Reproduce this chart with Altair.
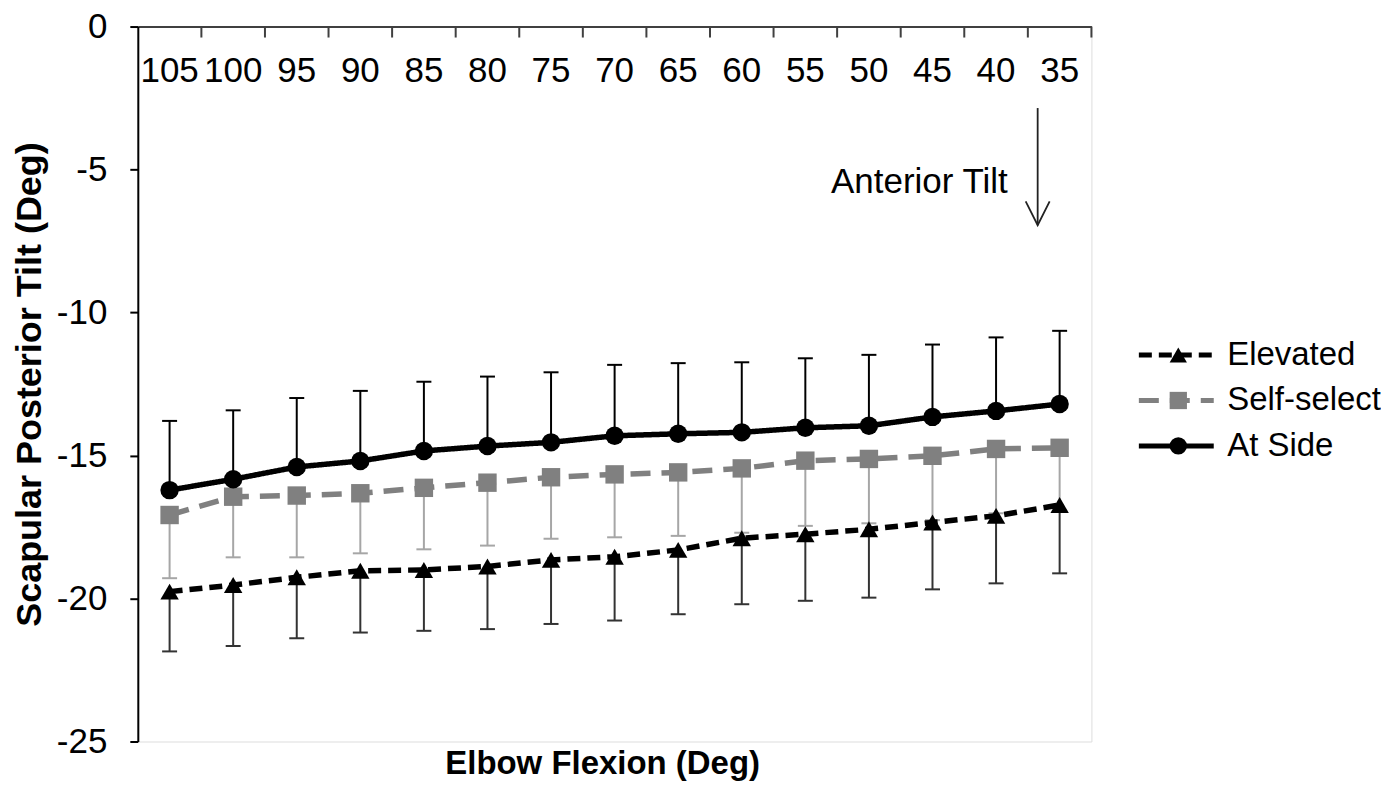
import altair as alt
import pandas as pd

# ---------------- data ----------------
angles = ["105", "100", "95", "90", "85", "80", "75", "70", "65", "60", "55", "50", "45", "40", "35"]
series_names = ["Elevated", "Self-select", "At Side"]

elevated_mean = [-19.76, -19.53, -19.26, -19.03, -19.00, -18.88, -18.65, -18.54, -18.30, -17.89, -17.75, -17.58, -17.34, -17.11, -16.73]
elevated_lower = [-21.85, -21.66, -21.39, -21.19, -21.13, -21.07, -20.89, -20.77, -20.55, -20.20, -20.08, -19.97, -19.68, -19.47, -19.12]

self_mean = [-17.08, -16.44, -16.40, -16.32, -16.13, -15.95, -15.76, -15.66, -15.59, -15.45, -15.18, -15.12, -15.01, -14.77, -14.73]
self_lower = [-19.29, -18.56, -18.56, -18.42, -18.28, -18.15, -17.91, -17.86, -17.81, -17.70, -17.46, -17.37, -17.26, -17.02, -16.93]

side_mean = [-16.21, -15.83, -15.40, -15.19, -14.84, -14.67, -14.54, -14.31, -14.24, -14.19, -14.03, -13.96, -13.65, -13.44, -13.20]
side_upper = [-13.79, -13.42, -12.99, -12.74, -12.42, -12.24, -12.09, -11.83, -11.77, -11.74, -11.60, -11.48, -11.12, -10.87, -10.64]

y_ticks = [0, -5, -10, -15, -20, -25]

anno_text = ["Anterior Tilt"]
anno_x = ["35"]
anno_text_y = [-5.83]
arrow_y_start = [-2.85]
arrow_y_end = [-6.95]
arrow_head_y = [-6.53]

# ---------------- tables ----------------
rows = []
for name, means, ends in zip(series_names,
                             [elevated_mean, self_mean, side_mean],
                             [elevated_lower, self_lower, side_upper]):
    for a, m, e in zip(angles, means, ends):
        rows.append({"angle": a, "series": name, "mean": m, "end": e})
df = pd.DataFrame(rows)
df_ticks = pd.DataFrame({"angle": angles})
df_anno = pd.DataFrame({"angle": anno_x, "text": anno_text, "ty": anno_text_y,
                        "y1": arrow_y_start, "y2": arrow_y_end, "yh": arrow_head_y})

FONT = "Liberation Sans"

x_scale = alt.Scale(type="band", domain=angles, paddingInner=0, paddingOuter=0)
y_scale = alt.Scale(domain=[-25, 0], nice=False, zero=False)

x_axis = alt.Axis(orient="top", ticks=False, labelPadding=-55, labelBaseline="alphabetic",
                  labelFontSize=35, labelAngle=0, labelOverlap=False, labelColor="black",
                  labelFont=FONT, domainColor="#404040", domainWidth=2, grid=False,
                  title=None)
y_axis = alt.Axis(values=y_ticks, labelExpr="'' + datum.value", grid=False,
                  domainColor="black", domainWidth=2, tickColor="black", tickWidth=2,
                  tickSize=8, labelFontSize=35, labelPadding=23, labelColor="black",
                  labelFont=FONT, titleFont=FONT, titleFontSize=36, titleFontWeight="bold",
                  titleColor="black", titleX=-108, titleY=358, titleAngle=270,
                  titleBaseline="middle", titleAlign="center")
Y_TITLE = "Scapular Posterior Tilt (Deg)"


def xenc(**kw):
    return alt.X("angle:N", scale=x_scale, axis=x_axis, **kw)


def yenc(field):
    return alt.Y(f"{field}:Q", scale=y_scale, axis=y_axis, title=Y_TITLE)


color_scale = alt.Scale(domain=series_names, range=["#000000", "#808080", "#000000"])
dash_scale = alt.Scale(domain=series_names, range=[[13, 7], [20, 11], [1, 0]])
shape_scale = alt.Scale(domain=series_names, range=["triangle-up", "square", "circle"])

LEG_X = 1023.5
LEG_Y = 312.5
line_legend = alt.Legend(orient="none", legendX=LEG_X, legendY=LEG_Y, title=None,
                         symbolType="M-5,0H5", symbolSize=225, symbolStrokeWidth=5,
                         symbolOffset=0, labelOffset=34.5, labelFontSize=33,
                         labelColor="black", labelFont=FONT, rowPadding=11.5, padding=0,
                         direction="vertical")
point_legend = alt.Legend(orient="none", legendX=LEG_X, legendY=LEG_Y, title=None,
                          symbolSize=300, symbolOffset=2, labelExpr="''",
                          labelFontSize=33, labelFont=FONT, rowPadding=11.5, padding=0,
                          direction="vertical", symbolOpacity=1)

base = alt.Chart(df)

# axis tick marks between categories (pointing into the plot)
tick_rules = alt.Chart(df_ticks).mark_rule(color="#404040", strokeWidth=2).encode(
    x=alt.X("angle:N", scale=x_scale, axis=x_axis, bandPosition=1),
    y=alt.value(0), y2=alt.value(11))

whisker_colors = {"Elevated": "#333333", "Self-select": "#a6a6a6", "At Side": "#000000"}
whiskers = []
for name in ["Self-select", "Elevated", "At Side"]:
    d = base.transform_filter(alt.datum.series == name)
    whiskers.append(d.mark_rule(color=whisker_colors[name], strokeWidth=2).encode(
        x=xenc(), y=yenc("mean"), y2="end:Q"))
    whiskers.append(d.mark_tick(color=whisker_colors[name], thickness=2, size=15, opacity=1).encode(
        x=xenc(), y=yenc("end")))

lines = base.mark_line(strokeWidth=5.5).encode(
    x=xenc(), y=yenc("mean"),
    color=alt.Color("series:N", scale=color_scale, legend=line_legend),
    strokeDash=alt.StrokeDash("series:N", scale=dash_scale, legend=line_legend))

points = base.mark_point(filled=True, size=340, opacity=1).encode(
    x=xenc(), y=yenc("mean"),
    color=alt.Color("series:N", scale=color_scale, legend=point_legend),
    shape=alt.Shape("series:N", scale=shape_scale, legend=point_legend))

anno = alt.Chart(df_anno)
anno_label = anno.mark_text(align="right", baseline="alphabetic", fontSize=35, font=FONT,
                            color="black", dx=-52).encode(
    x=xenc(), y=yenc("ty"), text="text:N")
arrow_line = anno.mark_rule(color="#222222", strokeWidth=1.8, xOffset=-22).encode(
    x=xenc(), y=yenc("y1"), y2="y2:Q")
arrow_head = anno.mark_point(shape="M-1,-1L0,1L1,-1", filled=False, size=576,
                             strokeWidth=1.8, color="#222222", opacity=1, xOffset=-22).encode(
    x=xenc(), y=yenc("yh"))

chart = alt.layer(
    tick_rules, *whiskers, lines, points, anno_label, arrow_line, arrow_head
).resolve_legend(
    color="independent", strokeDash="independent", shape="independent"
).properties(
    width=955, height=716,
    padding={"left": 130, "top": 18, "right": 290, "bottom": 45},
    autosize=alt.AutoSizeParams(type="none"),
    background="white",
    title=alt.TitleParams("Elbow Flexion (Deg)", orient="bottom", anchor="middle",
                          frame="group", fontSize=33, fontWeight="bold", font=FONT,
                          color="black", offset=-11, dx=-12),
).configure_view(stroke="#a0a0a0", strokeWidth=1.5).configure(font=FONT)

chart.save("out.html", embed_options={"renderer": "svg", "actions": False})
